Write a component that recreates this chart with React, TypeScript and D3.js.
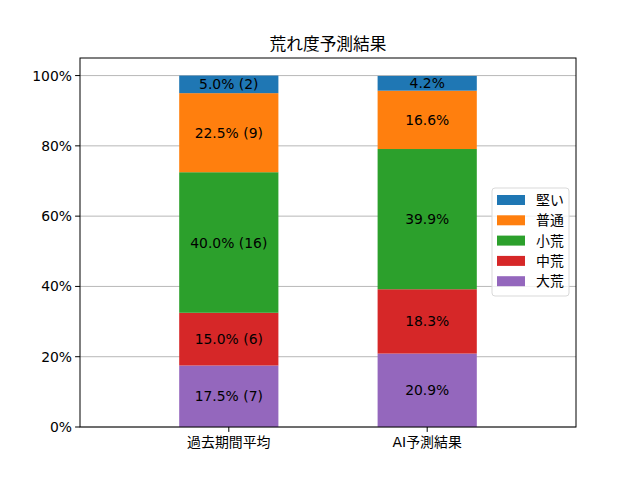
import React from "react";
import * as d3 from "d3";

const categories = ["過去期間平均", "AI予測結果"];
const seriesNames = ["大荒", "中荒", "小荒", "普通", "堅い"];
const colors = ["#9467bd", "#d62728", "#2ca02c", "#ff7f0e", "#1f77b4"];
const pastValues = [17.5, 15.0, 40.0, 22.5, 5.0];
const pastCounts = [7, 6, 16, 9, 2];
const aiValues = [20.9, 18.3, 39.9, 16.6, 4.2];
const yTicks = [0, 20, 40, 60, 80, 100];

const W = 640, H = 480;
const left = 80, right = 576, top = 58, bottom = 427;
const font = "'DejaVu Sans', 'Noto Sans CJK JP', sans-serif";
const fs = 13.9;

export default function App() {
  const x = d3.scaleLinear().domain([-0.75, 1.75]).range([left, right]);
  const y = d3.scaleLinear().domain([0, 105]).range([bottom, top]);
  const bw = x(0.5) - x(0);
  const data = [pastValues, aiValues];

  const bars: JSX.Element[] = [];
  const labels: JSX.Element[] = [];
  data.forEach((vals, ci) => {
    let acc = 0;
    vals.forEach((v, si) => {
      const y0 = acc, y1 = acc + v;
      acc = y1;
      bars.push(
        <rect key={`b${ci}-${si}`} x={x(ci) - bw / 2} y={y(y1)} width={bw}
          height={y(y0) - y(y1)} fill={colors[si]} />
      );
      const txt = ci === 0 ? `${v.toFixed(1)}% (${pastCounts[si]})` : `${v.toFixed(1)}%`;
      labels.push(
        <text key={`l${ci}-${si}`} x={x(ci)} y={y((y0 + y1) / 2)} textAnchor="middle"
          dominantBaseline="central" fontSize={fs} fill="#000">{txt}</text>
      );
    });
  });

  const legendOrder = [4, 3, 2, 1, 0];

  return (
    <svg width={W} height={H} style={{ position: "absolute", left: 0, top: 0 }} fontFamily={font}>
      <rect width={W} height={H} fill="#fff" />
      {yTicks.map((t) => (
        <line key={`g${t}`} x1={left} x2={right} y1={y(t)} y2={y(t)} stroke="#b0b0b0" strokeWidth={0.9} />
      ))}
      {bars}
      {labels}
      <rect x={left} y={top} width={right - left} height={bottom - top} fill="none" stroke="#000" strokeWidth={1} />
      {yTicks.map((t) => (
        <g key={`t${t}`}>
          <line x1={left - 4.9} x2={left} y1={y(t)} y2={y(t)} stroke="#000" strokeWidth={1} />
          <text x={left - 8} y={y(t)} textAnchor="end" dominantBaseline="central" fontSize={fs}>{`${t}%`}</text>
        </g>
      ))}
      {categories.map((c, i) => (
        <g key={`c${i}`}>
          <line x1={x(i)} x2={x(i)} y1={bottom} y2={bottom + 4.9} stroke="#000" strokeWidth={1} />
          <text x={x(i)} y={bottom + 15} textAnchor="middle" dominantBaseline="central" fontSize={fs}>{c}</text>
        </g>
      ))}
      <text x={(left + right) / 2} y={44} textAnchor="middle" dominantBaseline="central" fontSize={16.7}>荒れ度予測結果</text>
      <g>
        <rect x={492} y={188} width={77} height={108} rx={3} fill="#fff" fillOpacity={0.8} stroke="#d9d9d9" strokeWidth={1} />
        {legendOrder.map((si, k) => {
          const cy = 200 + k * 20.3;
          return (
            <g key={`lg${si}`}>
              <rect x={497} y={cy - 5} width={28} height={10} fill={colors[si]} />
              <text x={536} y={cy} dominantBaseline="central" fontSize={fs}>{seriesNames[si]}</text>
            </g>
          );
        })}
      </g>
    </svg>
  );
}
